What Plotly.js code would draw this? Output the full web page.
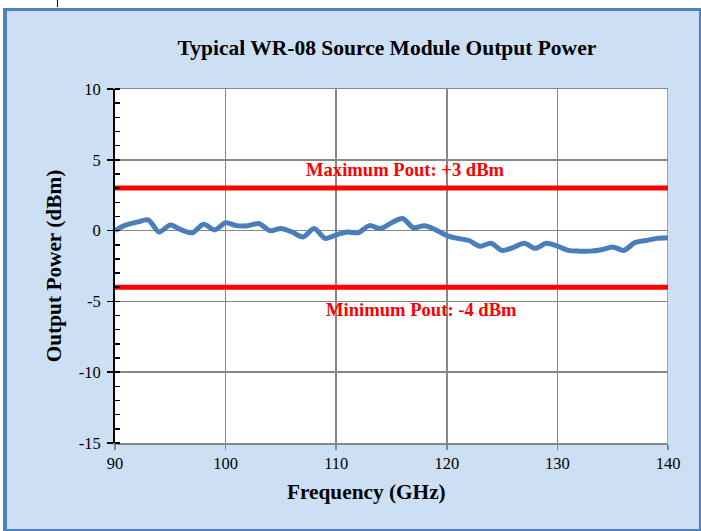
<!DOCTYPE html>
<html>
<head>
<meta charset="utf-8">
<script src="https://cdn.plot.ly/plotly-3.0.1.min.js"></script>
<style>
  html, body { margin: 0; padding: 0; background: #ffffff; width: 701px; height: 531px; overflow: hidden; }
  #frame { position: absolute; left: 3px; top: 8px; width: 698px; height: 523px; box-sizing: border-box;
           border-style: solid; border-color: #4f81bd; border-width: 3px 2px 2px 4px; background: #cde0f3; }
  #chart { position: absolute; left: 0; top: 0; width: 692px; height: 518px; }
  #mark { position: absolute; left: 57px; top: 0; width: 1px; height: 7px; background: #000; }
</style>
</head>
<body>
<div id="mark"></div>
<div id="frame"><div id="chart"></div></div>
<script>
const freqGHz = [90,91,92,93,94,95,96,97,98,99,100,101,102,103,104,105,106,107,108,109,110,
  111,112,113,114,115,116,117,118,119,120,121,122,123,124,125,126,127,128,129,130,
  131,132,133,134,135,136,137,138,139,140];
const powerDbm = [0.0,0.4,0.6,0.75,-0.1,0.4,0.05,-0.15,0.45,0.05,0.55,0.35,0.35,0.5,0.0,0.15,-0.1,-0.45,0.15,-0.55,-0.3,
  -0.1,-0.15,0.35,0.15,0.55,0.85,0.2,0.35,0.05,-0.35,-0.55,-0.7,-1.1,-0.9,-1.4,-1.2,-0.9,-1.25,-0.9,-1.1,
  -1.4,-1.45,-1.45,-1.35,-1.15,-1.4,-0.85,-0.7,-0.55,-0.5];
const maxPout = 3;
const minPout = -4;
const xRange = [90, 140];
const yRange = [-15, 10];
const xTickVals = [90, 100, 110, 120, 130, 140];
const xTickText = ['90', '100', '110', '120', '130', '140'];
const yTickVals = [-15, -10, -5, 0, 5, 10];
const yTickText = ['-15', '-10', '-5', '0', '5', '10'];

const serif = '"Liberation Serif", "Times New Roman", serif';

const traces = [
  { x: xRange, y: [maxPout, maxPout], mode: 'lines', line: { color: '#ff0000', width: 5 }, hoverinfo: 'skip', showlegend: false },
  { x: xRange, y: [minPout, minPout], mode: 'lines', line: { color: '#ff0000', width: 5 }, hoverinfo: 'skip', showlegend: false },
  { x: freqGHz, y: powerDbm, mode: 'lines', line: { color: '#4a7ebb', width: 5, shape: 'spline', smoothing: 0.8 }, showlegend: false }
];

const layout = {
  width: 692, height: 518,
  margin: { l: 108, r: 31, t: 78, b: 86 },
  paper_bgcolor: 'rgba(0,0,0,0)',
  plot_bgcolor: '#ffffff',
  font: { family: serif, size: 16.5, color: '#000000' },
  showlegend: false,
  title: { text: '<b>Typical WR-08 Source Module Output Power</b>', font: { family: serif, size: 21.5, color: '#000' },
           x: 0.549, xanchor: 'center', xref: 'container', y: 0.929, yanchor: 'middle', yref: 'container' },
  xaxis: {
    range: xRange, tickmode: 'array', tickvals: xTickVals, ticktext: xTickText,
    showgrid: true, gridcolor: '#878787', gridwidth: 1.5,
    showline: true, linecolor: '#878787', linewidth: 1.5, mirror: true,
    ticks: 'outside', ticklen: 5, tickcolor: '#878787', tickwidth: 1.5,
    zeroline: false,
    tickfont: { family: serif, size: 16.5, color: '#000' }
  },
  yaxis: {
    range: yRange, tickmode: 'array', tickvals: yTickVals, ticktext: yTickText,
    showgrid: true, gridcolor: '#878787', gridwidth: 1.5,
    showline: true, linecolor: '#000000', linewidth: 2,
    ticks: 'outside', ticklen: 6, tickcolor: '#000', tickwidth: 1.5, ticklabelstandoff: 3,
    minor: { tickmode: 'linear', tick0: 0, dtick: 1, ticks: 'inside', ticklen: 5, tickcolor: '#000', tickwidth: 1.5, showgrid: false },
    zeroline: false,
    tickfont: { family: serif, size: 16.5, color: '#000' },
    title: { text: '<b>Output Power (dBm)</b>', font: { family: serif, size: 21.3, color: '#000' }, standoff: 11 }
  },
  shapes: [
    { type: 'line', xref: 'x', yref: 'paper', x0: 140, x1: 140, y0: 0, y1: 1, line: { color: '#878787', width: 1.5 }, layer: 'below' }
  ],
  annotations: [
    { x: 0.454, y: -0.138, xref: 'paper', yref: 'paper', xanchor: 'center', yanchor: 'middle',
      text: '<b>Frequency (GHz)</b>', showarrow: false, font: { family: serif, size: 21.3, color: '#000' } },
    { x: 116.3, y: 4.3, xref: 'x', yref: 'y', text: '<b>Maximum Pout: +3 dBm</b>', showarrow: false,
      font: { family: serif, size: 18.6, color: '#ff0000' } },
    { x: 117.7, y: -5.6, xref: 'x', yref: 'y', text: '<b>Minimum Pout: -4 dBm</b>', showarrow: false,
      font: { family: serif, size: 18.6, color: '#ff0000' } }
  ]
};

Plotly.newPlot('chart', traces, layout, { displayModeBar: false, staticPlot: true });
</script>
</body>
</html>
